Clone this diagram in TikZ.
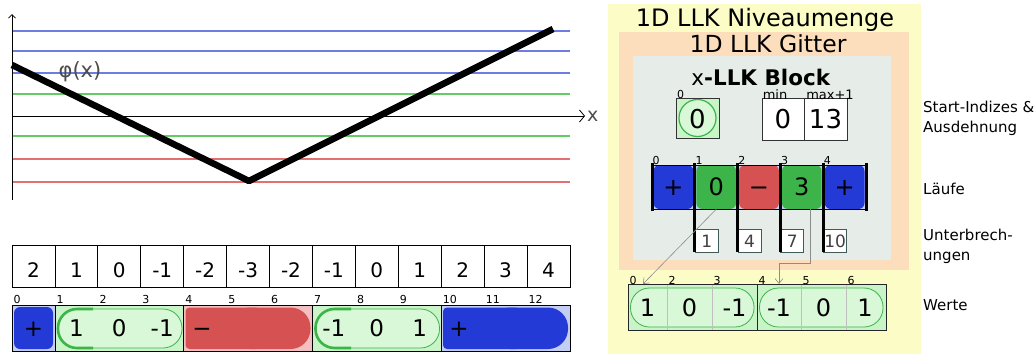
\documentclass[tikz,border=0pt]{standalone}
\usepackage{fontspec}
\setmainfont{DejaVu Sans}
\usetikzlibrary{arrows.meta}

\definecolor{runblue}{RGB}{36,58,214}
\definecolor{rungreen}{RGB}{60,180,74}
\definecolor{runred}{RGB}{214,82,82}
\definecolor{bgblue}{RGB}{196,206,244}
\definecolor{bggreen}{RGB}{200,244,200}
\definecolor{pillgreen}{RGB}{216,248,216}
\definecolor{bgpink}{RGB}{242,192,192}
\definecolor{setyellow}{RGB}{252,252,198}
\definecolor{gridpeach}{RGB}{253,222,188}
\definecolor{blockgray}{RGB}{230,236,232}
\definecolor{lvlblue}{RGB}{108,126,226}
\definecolor{lvlgreen}{RGB}{100,204,100}
\definecolor{lvlred}{RGB}{226,112,112}
\definecolor{breakedge}{RGB}{64,90,90}

\newcommand{\setfs}[2]{\fontsize{#1}{#2}\selectfont}

\begin{document}
\begin{tikzpicture}[x=1pt,y=-1pt,
  lvl/.style={line width=1.1pt},
  axis/.style={line width=0.8pt, black},
  numcell/.style={draw=black, line width=0.8pt, minimum width=42.92pt, minimum height=42pt,
    inner sep=0pt, text height=22.6pt, text depth=0pt, font=\setfs{20}{20}},
  idx/.style={anchor=south west, inner sep=0pt, font=\setfs{11}{11}},
  bignum/.style={inner sep=0pt, text height=16.8pt, text depth=0pt, font=\setfs{23}{23}},
  sidelabel/.style={anchor=north west, align=left, inner sep=0pt, font=\setfs{15}{20}},
  brk/.style={draw=breakedge, fill=white, line width=0.8pt, minimum width=23pt, minimum height=23pt,
    inner sep=0pt, anchor=north west, font=\setfs{17}{17}, text=black!75},
  runcell/.style={minimum width=39.8pt, minimum height=44pt, inner sep=0pt, rounded corners=6pt,
    text height=17.5pt, text depth=0pt, font=\setfs{24}{24}},
  sep/.style={line width=3pt, black},
  ptr/.style={draw=black!45, line width=0.6pt, -{Straight Barb[length=5pt,width=8pt]}},
  segbg/.style={draw=black, line width=0.8pt},
  pill/.style={fill=pillgreen, draw=rungreen, line width=0.8pt, rounded corners=19pt},
]
\useasboundingbox (0,0) rectangle (1035,354);

% ---------- level set plot ----------
\foreach \yy/\cc in {31/lvlblue,51/lvlblue,73/lvlblue,94/lvlgreen,136/lvlgreen,159/lvlred,182/lvlred}
  \draw[lvl,\cc] (12,\yy) -- (570,\yy);
\coordinate (yb) at (12,200); \coordinate (yt) at (12,14);
\coordinate (xl) at (12,116); \coordinate (xr) at (585,116);
\draw[axis,-{Straight Barb[length=3.5pt,width=7pt]}] (yb) -- (yt);
\draw[axis,-{Straight Barb[length=5pt,width=12pt]}] (xl) -- (xr);
\node[font=\setfs{19}{19}, text=black!70, anchor=west, inner sep=0pt] (xlab) at (587,116) {x};
\coordinate (p0) at (12,65); \coordinate (p1) at (249,181); \coordinate (p2) at (553,29);
\draw[line width=6.5pt, line join=round] (p0) -- (p1) -- (p2);
\node[font=\setfs{21}{21}, text=black!70, inner sep=0pt] (phi) at (80,72) {φ(x)};

% ---------- sampled values ----------
\foreach \v [count=\i from 0] in {2,1,0,-1,-2,-3,-2,-1,0,1,2,3,4}
  \node[numcell] (v\i) at ({12+42.92*(\i+0.5)},266) {\v};

% ---------- runs along the grid ----------
\foreach \i in {0,...,12}
  \node[idx] (g\i) at ({12+42.92*\i+1.5},304) {\i};

% cell 0: inside (+)
\filldraw[segbg, fill=bgblue] (12,305) rectangle (54.92,351);
\fill[runblue, rounded corners=6pt] (14,307) rectangle (53,349);
\node[bignum] (r0) at (33.5,328) {+};

% cells 1-3: narrow band
\filldraw[segbg, fill=bggreen] (54.92,305) rectangle (183.68,351);
\filldraw[pill] (58,309) rectangle (182,348);
\begin{scope}
  \clip (54,305) rectangle (93,351);
  \draw[rungreen, line width=2.6pt, rounded corners=19pt] (58,309) rectangle (182,348);
\end{scope}
\node[bignum] (n1) at (76.4,328) {1};
\node[bignum] (n2) at (119.3,328) {0};
\node[bignum] (n3) at (162.2,328) {-1};

% cells 4-6: outside (-)
\filldraw[segbg, fill=bgpink] (183.68,305) rectangle (312.44,351);
\fill[runred, rounded corners=4pt] (185.5,307.5) rectangle (260,349);
\fill[runred, rounded corners=20pt] (230,307.5) rectangle (310.5,349);
\node[bignum] (r4) at (202,328) {−};

% cells 7-9: narrow band
\filldraw[segbg, fill=bggreen] (312.44,305) rectangle (441.2,351);
\filldraw[pill] (315.5,309) rectangle (439.5,348);
\begin{scope}
  \clip (312,305) rectangle (351,351);
  \draw[rungreen, line width=2.6pt, rounded corners=19pt] (315.5,309) rectangle (439.5,348);
\end{scope}
\node[bignum] (n7) at (333.9,328) {-1};
\node[bignum] (n8) at (376.8,328) {0};
\node[bignum] (n9) at (419.7,328) {1};

% cells 10-12: inside (+)
\filldraw[segbg, fill=bgblue] (441.2,305) rectangle (569.96,351);
\fill[runblue, rounded corners=4pt] (443,307.5) rectangle (520,349);
\fill[runblue, rounded corners=20pt] (490,307.5) rectangle (568,349);
\node[bignum] (r10) at (459,328) {+};

% ---------- nested containers ----------
\fill[setyellow] (608,4) rectangle (921,354);
\node[font=\setfs{24}{24}, anchor=base, inner sep=0pt] (tset) at (765,26) {1D LLK Niveaumenge};
\fill[gridpeach] (619,32) rectangle (909,270);
\node[font=\setfs{23.5}{23.5}, anchor=base, inner sep=0pt] (tgrid) at (768,52) {1D LLK Gitter};
\fill[blockgray] (633,56) rectangle (891,260);
\node[font=\setfs{21.5}{21.5}, anchor=base, inner sep=0pt] (tblock) at (761,85) {x\textbf{-LLK Block}};

% start index and extent
\node[idx] (ls) at (677,98.5) {0};
\node[draw=black!80, fill=bggreen, line width=0.8pt, minimum width=43pt, minimum height=40pt, inner sep=0pt] (start) at (697.5,118) {};
\draw[rungreen, line width=1.2pt, fill=pillgreen] (start.center) circle[radius=18.5pt];
\node[font=\setfs{26}{26}, inner sep=0pt] (startv) at (697.5,119) {0};
\node[draw=black!80, fill=white, line width=0.8pt, minimum width=42pt, minimum height=42pt, inner sep=0pt, font=\setfs{26}{26}] (mn) at (783,119) {0};
\node[draw=black!80, fill=white, line width=0.8pt, minimum width=43pt, minimum height=42pt, inner sep=0pt, font=\setfs{26}{26}] (mx) at (825.5,119) {13};
\node[anchor=south, inner sep=0pt, font=\setfs{13}{13}] (lmin) at (775,99.5) {min};
\node[anchor=south, inner sep=0pt, font=\setfs{13}{13}] (lmax) at (830,99.5) {max+1};

% runs
\fill[bgblue] (652,165) rectangle (866,209);
\foreach \k/\c/\t in {0/runblue/+,1/rungreen/0,2/runred/−,3/rungreen/3,4/runblue/+}
  \node[runcell, fill=\c] (run\k) at ({652+42.8*(\k+0.5)},187) {\t};
\draw[line width=0.8pt] (652,165) rectangle (866,209);

% breaks
\foreach \k/\t in {1/1,2/4,3/7,4/10}
  \node[brk] (brk\k) at ({652+42.8*\k},229) {\t};
\foreach \k in {1,...,4}
  \draw[sep] ({652+42.8*\k},163) -- ({652+42.8*\k},252);
\draw[sep] (652,163) -- (652,211);
\draw[sep] (866,163) -- (866,211);
\foreach \k in {0,...,4}
  \node[idx] (ri\k) at ({652+42.8*\k+0.5},164.5) {\k};

% values
\filldraw[fill=bggreen, draw=black!85, line width=0.8pt] (628,284) rectangle (757,330);
\filldraw[fill=bggreen, draw=black!85, line width=0.8pt] (757,284) rectangle (886,330);
\filldraw[pill] (630.5,288) rectangle (754,327);
\filldraw[pill] (759.5,288) rectangle (883,327);
\foreach \xx in {667,712,801,846}
  \draw[black!25, line width=0.8pt] (\xx,284.5) -- (\xx,329.5);
\foreach \xx/\t [count=\j from 0] in {647.5/1,689.5/0,734.5/-1,779/-1,823.5/0,865/1}
  \node[bignum, text height=17.5pt, font=\setfs{24}{24}] (val\j) at (\xx,307.5) {\t};
\foreach \xx/\t in {628/0,667/2,712/3,757/4,801/5,846/6}
  \node[idx] (vi\t) at (\xx+1.5,284.5) {\t};

% pointers from runs into the value array
\coordinate (w0) at (643,284);
\coordinate (w4) at (779,284);
\coordinate (bend) at (779,263);
\coordinate (run3s) at ([xshift=8pt]run3.south);
\draw[ptr] (run1.south) -- (w0);
\draw[ptr] (run3s) |- (bend) -- (w4);

% ---------- side captions ----------
\node[sidelabel] (cap1) at (923,101) {Start-Indizes \&\\Ausdehnung};
\node[sidelabel] (cap2) at (923,182.5) {Läufe};
\node[sidelabel] (cap3) at (923,229) {Unterbrech-\\ungen};
\node[sidelabel] (cap4) at (923,299.5) {Werte};
\end{tikzpicture}
\end{document}
